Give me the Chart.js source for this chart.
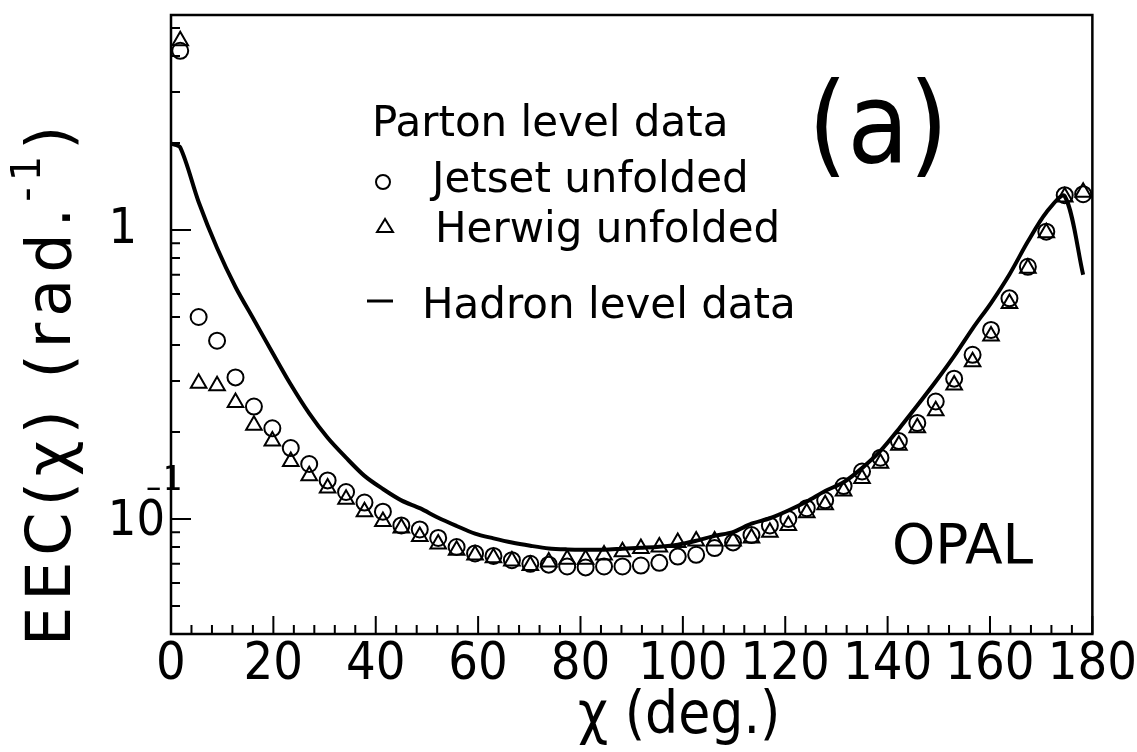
<!DOCTYPE html>
<html>
<head>
<meta charset="utf-8">
<title>EEC(chi)</title>
<script src="https://cdn.jsdelivr.net/npm/chart.js@4.4.1/dist/chart.umd.min.js"></script>
<style>
  html, body { margin: 0; padding: 0; background: #fff; }
</style>
</head>
<body>
<canvas id="myChart" width="1137" height="752"></canvas>
<script>
// bin centres (deg.)
const chi = [1.8, 5.4, 9.0, 12.6, 16.2, 19.8, 23.4, 27.0, 30.6, 34.2,
             37.8, 41.4, 45.0, 48.6, 52.2, 55.8, 59.4, 63.0, 66.6, 70.2,
             73.8, 77.4, 81.0, 84.6, 88.2, 91.8, 95.4, 99.0, 102.6, 106.2,
             109.8, 113.4, 117.0, 120.6, 124.2, 127.8, 131.4, 135.0, 138.6, 142.2,
             145.8, 149.4, 153.0, 156.6, 160.2, 163.8, 167.4, 171.0, 174.6, 178.2];

// parton level, Jetset unfolded
const jetset = [4.17, 0.50, 0.414, 0.309, 0.245, 0.206, 0.176, 0.155, 0.136, 0.124,
                0.114, 0.106, 0.095, 0.092, 0.086, 0.080, 0.076, 0.0745, 0.072, 0.070,
                0.0695, 0.0685, 0.068, 0.0685, 0.0685, 0.069, 0.0705, 0.0741, 0.0752, 0.0793,
                0.083, 0.088, 0.095, 0.100, 0.109, 0.116, 0.130, 0.146, 0.163, 0.186,
                0.215, 0.255, 0.306, 0.370, 0.451, 0.58, 0.746, 0.987, 1.32, 1.33];

// parton level, Herwig unfolded
const herwig = [4.52, 0.295, 0.289, 0.253, 0.211, 0.186, 0.158, 0.141, 0.128, 0.117,
                0.106, 0.098, 0.093, 0.087, 0.082, 0.078, 0.075, 0.0735, 0.0715, 0.069,
                0.071, 0.0725, 0.0725, 0.075, 0.077, 0.079, 0.080, 0.083, 0.084, 0.084,
                0.084, 0.086, 0.090, 0.095, 0.105, 0.112, 0.125, 0.138, 0.156, 0.180,
                0.207, 0.237, 0.291, 0.350, 0.430, 0.557, 0.737, 0.979, 1.30, 1.35];

// hadron level data (line)
const hadronChi = [0, 1.8, 5.4, 9.0, 12.6, 16.2, 19.8, 23.4, 27.0, 30.6, 34.2,
                   37.8, 41.4, 45.0, 48.6, 52.2, 55.8, 59.4, 63.0, 66.6, 70.2,
                   73.8, 77.4, 81.0, 84.6, 88.2, 91.8, 95.4, 99.0, 102.6, 106.2,
                   109.8, 113.4, 117.0, 120.6, 124.2, 127.8, 131.4, 135.0, 138.6, 142.2,
                   145.8, 149.4, 153.0, 156.6, 160.2, 163.8, 167.4, 171.0, 174.6, 178.2];
const hadron = [1.99, 1.93, 1.25, 0.866, 0.635, 0.489, 0.377, 0.292, 0.232, 0.191, 0.163,
                0.141, 0.127, 0.116, 0.109, 0.101, 0.0946, 0.089, 0.0857, 0.0829, 0.0808,
                0.0791, 0.0785, 0.0783, 0.0783, 0.0789, 0.0795, 0.0802, 0.0815, 0.0841, 0.0874,
                0.0901, 0.0963, 0.1006, 0.107, 0.115, 0.125, 0.134, 0.150, 0.172, 0.205,
                0.247, 0.299, 0.366, 0.456, 0.559, 0.702, 0.912, 1.15, 1.31, 0.70];

const xTickLabels = [0, 20, 40, 60, 80, 100, 120, 140, 160, 180];
const xMinorStep = 4;
const yMajorTicks = [0.1, 1];
const yMinorTicks = [0.05, 0.06, 0.07, 0.08, 0.09, 0.2, 0.3, 0.4, 0.5, 0.6, 0.7, 0.8, 0.9, 2, 3, 4, 5];

const toXY = (xs, ys) => xs.map((x, i) => ({x: x, y: ys[i]}));

// box, inward ticks
const frame = {
    id: 'frame',
    afterDatasetsDraw(chart) {
        const {ctx, chartArea: a, scales: {x, y}} = chart;
        ctx.save();
        ctx.strokeStyle = '#000';
        ctx.lineWidth = 2;
        ctx.beginPath();
        for (let v = 0; v <= 180; v += xMinorStep) {
            const px = x.getPixelForValue(v);
            const len = xTickLabels.includes(v) ? 18 : 9;
            ctx.moveTo(px, a.bottom);
            ctx.lineTo(px, a.bottom - len);
        }
        yMajorTicks.forEach(v => {
            const py = y.getPixelForValue(v);
            ctx.moveTo(a.left, py);
            ctx.lineTo(a.left + 20, py);
        });
        yMinorTicks.forEach(v => {
            const py = y.getPixelForValue(v);
            ctx.moveTo(a.left, py);
            ctx.lineTo(a.left + 9, py);
        });
        ctx.stroke();
        ctx.lineWidth = 2.5;
        ctx.strokeRect(a.left, a.top, a.right - a.left, a.bottom - a.top);
        ctx.restore();
    }
};

// axis titles, y labels, key, panel text
const texts = {
    id: 'texts',
    afterDraw(chart) {
        const {ctx, scales: {y}} = chart;
        ctx.save();
        ctx.fillStyle = '#000';
        ctx.strokeStyle = '#000';

        // y tick labels
        ctx.font = '50px "DejaVu Sans Condensed", "DejaVu Sans"';
        ctx.textBaseline = 'middle';
        ctx.textAlign = 'right';
        ctx.fillText('1', 137, y.getPixelForValue(1));
        ctx.fillText('10', 165, y.getPixelForValue(0.1) + 3);
        ctx.font = '34px "DejaVu Sans Condensed", "DejaVu Sans"';
        ctx.textAlign = 'left';
        ctx.fillText('\u2013', 146, y.getPixelForValue(0.1) - 30);
        ctx.fillText('1', 163, y.getPixelForValue(0.1) - 38);

        // x title
        ctx.font = '58px "DejaVu Sans Condensed", "DejaVu Sans"';
        ctx.textAlign = 'left';
        ctx.textBaseline = 'alphabetic';
        ctx.fillText('\u03c7 (deg.)', 578, 733);

        // y title, rotated
        ctx.save();
        ctx.translate(70, 646);
        ctx.rotate(-Math.PI / 2);
        ctx.letterSpacing = '6px';
        ctx.font = '62px "DejaVu Sans"';
        let s = 'EEC(\u03c7) (rad.';
        ctx.fillText(s, 0, 0);
        let w = ctx.measureText(s).width;
        ctx.font = '40px "DejaVu Sans"';
        ctx.fillText('-1', w, -30);
        w += ctx.measureText('-1').width;
        ctx.font = '62px "DejaVu Sans"';
        ctx.fillText(')', w, 0);
        ctx.restore();

        // key
        ctx.font = '42px "DejaVu Sans"';
        ctx.fillText('Parton level data', 372, 136);
        ctx.fillText('Jetset unfolded', 432, 192);
        ctx.fillText('Herwig unfolded', 435, 242);
        ctx.fillText('Hadron level data', 422, 318);
        ctx.lineWidth = 2;
        ctx.beginPath();
        ctx.arc(383, 182, 7, 0, Math.PI * 2);
        ctx.stroke();
        ctx.beginPath();
        ctx.moveTo(385, 219);
        ctx.lineTo(377, 232);
        ctx.lineTo(393, 232);
        ctx.closePath();
        ctx.stroke();
        ctx.lineWidth = 3;
        ctx.beginPath();
        ctx.moveTo(367, 301);
        ctx.lineTo(393, 301);
        ctx.stroke();

        // panel labels
        ctx.font = '112px "DejaVu Sans Condensed", "DejaVu Sans"';
        ctx.fillText('(a)', 808, 162);
        ctx.font = '55px "DejaVu Sans"';
        ctx.fillText('OPAL', 892, 563);
        ctx.restore();
    }
};

const ctx = document.getElementById('myChart').getContext('2d');
const myChart = new Chart(ctx, {
    type: 'scatter',
    data: {
        datasets: [{
            label: 'Jetset unfolded',
            data: toXY(chi, jetset),
            pointStyle: 'circle',
            pointRadius: 8,
            borderColor: '#000',
            backgroundColor: 'rgba(0,0,0,0)',
            borderWidth: 2,
            showLine: false
        }, {
            label: 'Herwig unfolded',
            data: toXY(chi, herwig),
            pointStyle: 'triangle',
            pointRadius: 9,
            borderColor: '#000',
            backgroundColor: 'rgba(0,0,0,0)',
            borderWidth: 2,
            showLine: false
        }, {
            label: 'Hadron level data',
            data: toXY(hadronChi, hadron),
            showLine: true,
            pointRadius: 0,
            borderColor: '#000',
            borderWidth: 4,
            tension: 0.3
        }]
    },
    options: {
        responsive: false,
        animation: false,
        devicePixelRatio: 1,
        layout: {
            padding: {left: 171, top: 15, right: 44, bottom: 0}
        },
        plugins: {
            legend: { display: false },
            tooltip: { enabled: false }
        },
        scales: {
            x: {
                type: 'linear',
                min: 0,
                max: 180,
                afterBuildTicks: (scale) => {
                    scale.ticks = xTickLabels.map(v => ({value: v}));
                },
                afterFit: (scale) => { scale.height = 118; },
                grid: { display: false, drawTicks: false },
                border: { display: false },
                ticks: {
                    color: '#000',
                    padding: 0,
                    maxRotation: 0,
                    font: { family: '"DejaVu Sans Condensed", "DejaVu Sans"', size: 52 }
                }
            },
            y: {
                type: 'logarithmic',
                min: 0.04,
                max: 5.546,
                grid: { display: false, drawTicks: false },
                border: { display: false },
                ticks: { display: false },
                afterFit: (scale) => { scale.width = 0; }
            }
        }
    },
    plugins: [frame, texts]
});
</script>
</body>
</html>
